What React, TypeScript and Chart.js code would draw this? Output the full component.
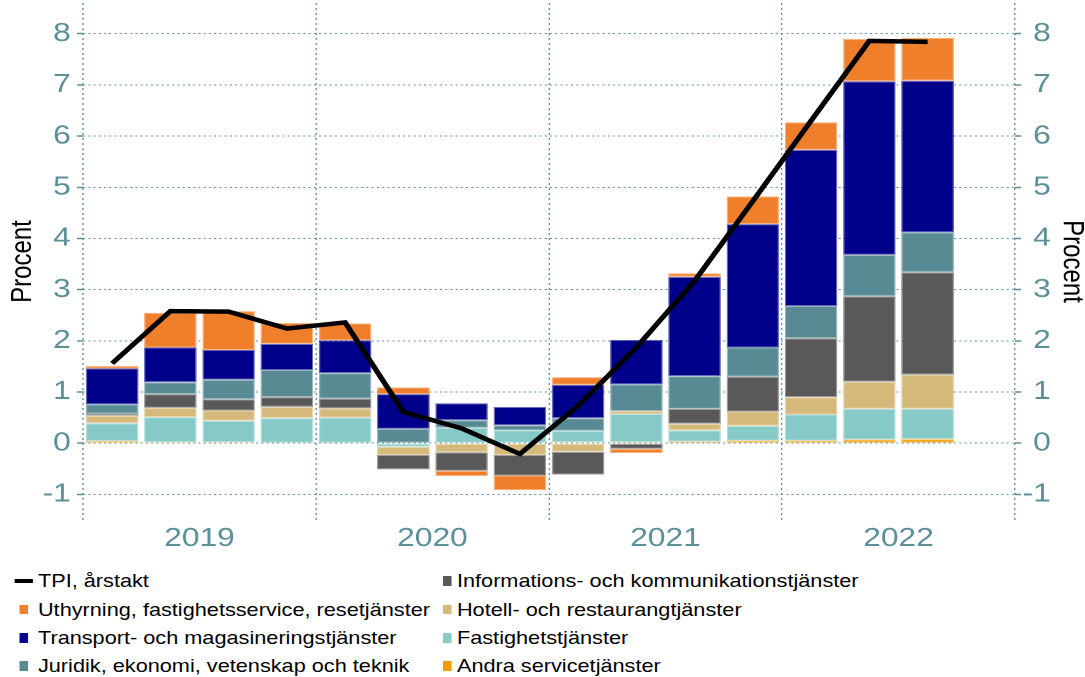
import React, { useEffect, useRef } from 'react';
import { Chart, registerables } from 'chart.js';

Chart.register(...registerables);

// ---------- data ----------
const quarters = [
  '2019 kv1', '2019 kv2', '2019 kv3', '2019 kv4',
  '2020 kv1', '2020 kv2', '2020 kv3', '2020 kv4',
  '2021 kv1', '2021 kv2', '2021 kv3', '2021 kv4',
  '2022 kv1', '2022 kv2', '2022 kv3', '2022 kv4',
];
const years = ['2019', '2020', '2021', '2022'];
const yTickValues = [-1, 0, 1, 2, 3, 4, 5, 6, 7, 8];

const andraService = [0.04, 0.02, 0.02, 0.01, 0.01, 0.0, 0.01, 0.01, 0.02, 0.02, 0.03, 0.05, 0.05, 0.07, 0.08, null];
const fastighet = [0.35, 0.49, 0.42, 0.48, 0.49, -0.07, 0.29, 0.24, 0.22, 0.55, 0.22, 0.29, 0.51, 0.60, 0.59, null];
const hotell = [0.15, 0.18, 0.20, 0.22, 0.18, -0.16, -0.18, -0.23, -0.17, 0.06, 0.13, 0.28, 0.34, 0.53, 0.67, null];
const information = [0.04, 0.27, 0.22, 0.19, 0.19, -0.28, -0.36, -0.40, -0.44, -0.11, 0.29, 0.68, 1.15, 1.67, 2.00, null];
const juridik = [0.18, 0.23, 0.38, 0.53, 0.50, 0.28, 0.15, 0.10, 0.25, 0.52, 0.64, 0.57, 0.63, 0.81, 0.78, null];
const transport = [0.70, 0.68, 0.58, 0.51, 0.64, 0.68, 0.33, 0.36, 0.65, 0.87, 1.94, 2.41, 3.05, 3.39, 2.96, null];
const uthyrning = [0.05, 0.68, 0.76, 0.41, 0.33, 0.13, -0.10, -0.29, 0.15, -0.08, 0.07, 0.54, 0.54, 0.83, 0.84, null];
const tpi = [1.56, 2.58, 2.57, 2.24, 2.36, 0.61, 0.29, -0.21, 0.73, 1.87, 3.17, 4.73, 6.30, 7.86, 7.84, null];

const seriesNames = {
  tpi: 'TPI, årstakt',
  uthyrning: 'Uthyrning, fastighetsservice, resetjänster',
  transport: 'Transport- och magasineringstjänster',
  juridik: 'Juridik, ekonomi, vetenskap och teknik',
  information: 'Informations- och kommunikationstjänster',
  hotell: 'Hotell- och restaurangtjänster',
  fastighet: 'Fastighetstjänster',
  andra: 'Andra servicetjänster',
};

const colors = {
  tpi: '#000000',
  uthyrning: '#F07F2B',
  transport: '#00008B',
  juridik: '#588A94',
  information: '#595959',
  hotell: '#D5B97B',
  fastighet: '#85CAC6',
  andra: '#F29C00',
};

// ---------- layout ----------
const BASE_W = 889;
const SX = 1085 / BASE_W;
const CANVAS_H = 560;
const FONT = '"Liberation Sans", Arial, Helvetica, sans-serif';
const AXIS_COLOR = '#5b8f99';

const legendCol0 = [
  { key: 'tpi', kind: 'line' },
  { key: 'uthyrning', kind: 'box' },
  { key: 'transport', kind: 'box' },
  { key: 'juridik', kind: 'box' },
];
const legendCol1 = [
  { key: 'information', kind: 'box' },
  { key: 'hotell', kind: 'box' },
  { key: 'fastighet', kind: 'box' },
  { key: 'andra', kind: 'box' },
];
const legendRowY = [581, 609.5, 638, 666];

function barSet(label: string, data: (number | null)[], color: string) {
  return {
    type: 'bar' as const,
    label,
    data,
    backgroundColor: color,
    borderColor: color + '99',
    borderWidth: 1,
    borderSkipped: false as const,
    xAxisID: 'x',
    yAxisID: 'y',
    stack: 'bars',
    order: 1,
    barPercentage: 0.903,
    categoryPercentage: 1.0,
  };
}

export default function App() {
  const canvasRef = useRef<HTMLCanvasElement | null>(null);

  useEffect(() => {
    const canvas = canvasRef.current;
    if (!canvas) return;
    Chart.defaults.font.family = FONT;

    const setTicks = (scale: any) => {
      scale.ticks = yTickValues.map((v) => ({ value: v }));
    };

    const chart = new Chart(canvas, {
      type: 'bar',
      data: {
        labels: quarters,
        datasets: [
          {
            type: 'line' as const,
            label: seriesNames.tpi,
            data: tpi,
            borderColor: colors.tpi,
            backgroundColor: colors.tpi,
            borderWidth: 4.5,
            pointRadius: 0,
            tension: 0,
            fill: false,
            xAxisID: 'x',
            yAxisID: 'y',
            stack: 'tpi',
            order: 0,
          },
          barSet(seriesNames.andra, andraService, colors.andra),
          barSet(seriesNames.fastighet, fastighet, colors.fastighet),
          barSet(seriesNames.hotell, hotell, colors.hotell),
          barSet(seriesNames.information, information, colors.information),
          barSet(seriesNames.juridik, juridik, colors.juridik),
          barSet(seriesNames.transport, transport, colors.transport),
          barSet(seriesNames.uthyrning, uthyrning, colors.uthyrning),
        ] as any,
      },
      options: {
        responsive: false,
        maintainAspectRatio: false,
        animation: false,
        devicePixelRatio: 2,
        layout: { padding: { top: 3, right: 28, left: 0, bottom: 0 } },
        plugins: {
          legend: { display: false },
          tooltip: { enabled: false },
        },
        scales: {
          x: {
            type: 'category',
            display: false,
            offset: true,
            stacked: true,
            grid: { offset: true, display: false },
          },
          x2: {
            type: 'category',
            labels: years,
            position: 'bottom',
            offset: true,
            grid: {
              offset: true,
              color: AXIS_COLOR,
              lineWidth: 1,
              drawTicks: false,
            },
            border: { display: false, dash: [2, 3] },
            ticks: {
              color: AXIS_COLOR,
              font: { size: 26, family: FONT },
              padding: 3,
              maxRotation: 0,
              autoSkip: false,
            },
            afterFit: (s: any) => {
              s.height = 40;
              s.paddingLeft = 0;
              s.paddingRight = 0;
            },
          },
          y: {
            type: 'linear',
            position: 'left',
            stacked: true,
            min: -1.5,
            max: 8.6,
            afterBuildTicks: setTicks,
            ticks: {
              color: AXIS_COLOR,
              font: { size: 26, family: FONT },
              padding: 5,
            },
            grid: {
              color: AXIS_COLOR,
              lineWidth: 1,
              drawTicks: true,
              tickLength: 5,
              tickColor: AXIS_COLOR,
              tickWidth: 1.5,
              tickBorderDash: [],
            },
            border: { display: false, dash: [1.6, 2.7] },
            title: {
              display: true,
              text: 'Procent',
              color: '#000',
              font: { size: 24, family: FONT },
              padding: { top: 4.4, bottom: 0 },
            },
            afterFit: (s: any) => {
              s.width = 68;
              s.paddingTop = 0;
              s.paddingBottom = 0;
            },
          },
          y1: {
            type: 'linear',
            position: 'right',
            min: -1.5,
            max: 8.6,
            afterBuildTicks: setTicks,
            ticks: {
              color: AXIS_COLOR,
              font: { size: 26, family: FONT },
              padding: 5,
              crossAlign: 'far',
            },
            grid: {
              drawOnChartArea: false,
              color: AXIS_COLOR,
              drawTicks: true,
              tickLength: 5,
              tickColor: AXIS_COLOR,
              tickWidth: 1.5,
              tickBorderDash: [],
            },
            border: { display: false },
            title: {
              display: true,
              text: 'Procent',
              color: '#000',
              font: { size: 24, family: FONT },
              padding: { top: -31.7, bottom: 0 },
            },
            afterFit: (s: any) => {
              s.width = 29.4;
              s.paddingTop = 0;
              s.paddingBottom = 0;
            },
          },
        } as any,
      },
    });

    return () => chart.destroy();
  }, []);

  const renderLegend = (items: { key: string; kind: string }[], col: number) =>
    items.map((it, i) => {
      const cy = legendRowY[i];
      const color = (colors as any)[it.key];
      const label = (seriesNames as any)[it.key];
      const textX = col === 0 ? 31.1 : 374.4;
      const boxX = col === 0 ? 16.4 : 363;
      return (
        <React.Fragment key={it.key}>
          {it.kind === 'line' ? (
            <div
              style={{
                position: 'absolute',
                left: 12.3,
                top: cy - 1.9,
                width: 14.7,
                height: 3.6,
                background: color,
              }}
            />
          ) : (
            <div
              style={{
                position: 'absolute',
                left: boxX,
                top: cy - 4.6,
                width: 6.6,
                height: 9.2,
                background: color,
              }}
            />
          )}
          <div
            style={{
              position: 'absolute',
              left: textX,
              top: cy - 11,
              height: 22,
              lineHeight: '22px',
              fontSize: '17.8px',
              fontFamily: FONT,
              color: '#000',
              whiteSpace: 'nowrap',
            }}
          >
            {label}
          </div>
        </React.Fragment>
      );
    });

  return (
    <div
      style={{
        position: 'absolute',
        left: 0,
        top: 0,
        width: BASE_W,
        height: 677,
        background: '#ffffff',
        transform: `scaleX(${SX})`,
        transformOrigin: '0 0',
        overflow: 'hidden',
      }}
    >
      <canvas
        ref={canvasRef}
        width={BASE_W}
        height={CANVAS_H}
        style={{ display: 'block', width: BASE_W, height: CANVAS_H }}
      />
      {renderLegend(legendCol0, 0)}
      {renderLegend(legendCol1, 1)}
    </div>
  );
}
